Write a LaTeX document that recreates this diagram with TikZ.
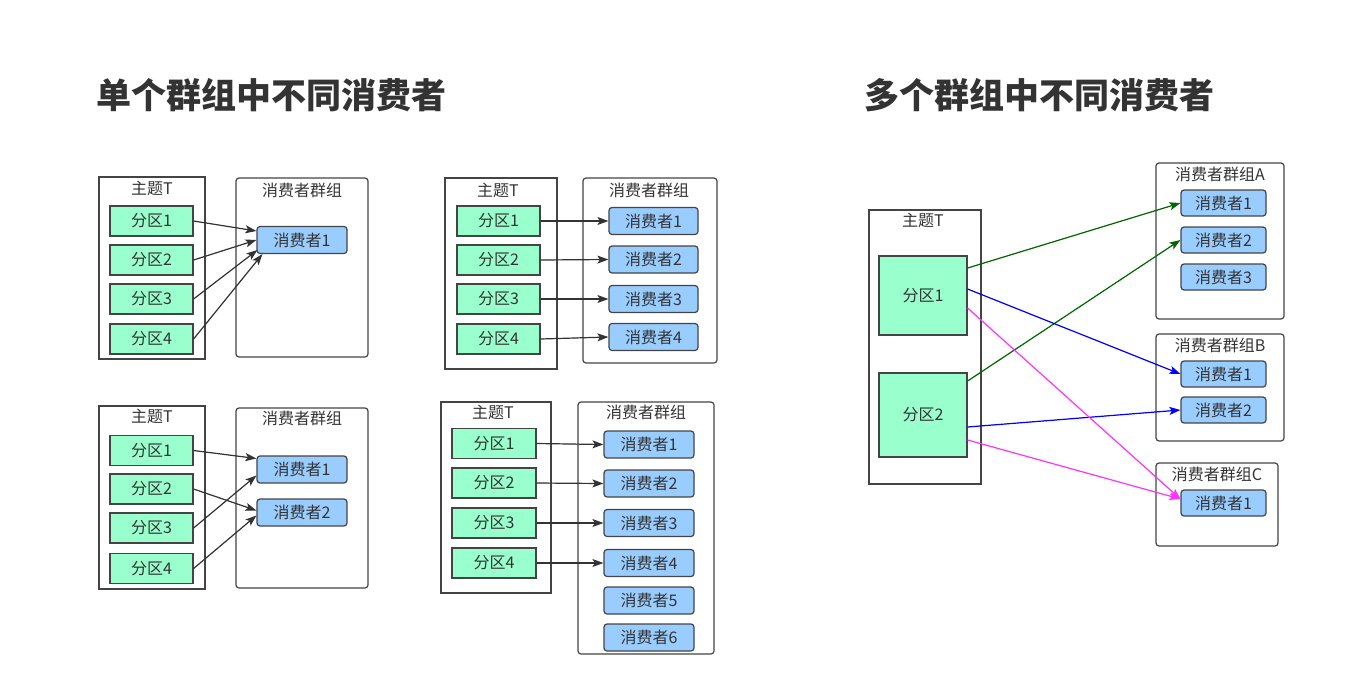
\documentclass[tikz,border=0pt]{standalone}
\usepackage{fontspec}
\setmainfont{Noto Sans CJK SC}
\usetikzlibrary{arrows.meta}
\definecolor{txt}{HTML}{333333}
\definecolor{bord}{HTML}{444444}
\definecolor{partfill}{HTML}{99FFCC}
\definecolor{consfill}{HTML}{99CCFF}
\definecolor{arrgray}{HTML}{333333}
\definecolor{agreen}{HTML}{006600}
\definecolor{ablue}{HTML}{0000FF}
\definecolor{amag}{HTML}{FF33FF}
\begin{document}
\begin{tikzpicture}[x=1pt,y=-1pt,
  every node/.style={font=\fontsize{16}{18}\selectfont, text=txt, inner sep=0pt},
  part/.style={draw=bord, fill=partfill, line width=1.2pt},
  cons/.style={draw=bord, fill=consfill, line width=1.2pt, rounded corners=3pt, minimum width=90pt, minimum height=27pt},
  topic/.style={draw=bord, line width=1.2pt},
  grp/.style={draw=bord, line width=1.2pt, rounded corners=3pt},
  ttl/.style={font=\fontsize{35}{40}\selectfont\bfseries, text=txt},
  arr/.style={-{Stealth[length=11pt,width=8pt,inset=2.5pt]}, line width=1.2pt, draw=arrgray, fill=arrgray},
]
\useasboundingbox (0,0) rectangle (1367,678);

% titles
\node[ttl] (t1) at (271,95) {单个群组中不同消费者};
\node[ttl] (t2) at (1039,95) {多个群组中不同消费者};

% ---------- Panel 1 ----------
\node[topic, minimum width=106pt, minimum height=182pt] (T1) at (152,268) {};
\node (T1l) at (152,188) {主题T};
\node[grp, minimum width=132pt, minimum height=179pt] (G1) at (302,267.5) {};
\node (G1l) at (302,190) {消费者群组};
\foreach \i/\y in {1/221,2/260,3/299,4/339}{
  \node[part, minimum width=83pt, minimum height=30pt] (a\i) at (151.5,\y) {分区\i};
}
\node[cons] (ac1) at (302,240) {消费者1};
\draw[arr] (a1.east) -- ([yshift=9pt]ac1.west);
\draw[arr] (a2.east) -- (ac1.west);
\draw[arr] (a3.east) -- ([xshift=1pt,yshift=-10pt]ac1.west);
\draw[arr] (a4.east) -- ([xshift=6pt]ac1.south west);

% ---------- Panel 2 ----------
\node[topic, minimum width=112pt, minimum height=191pt] (T2) at (501,273.5) {};
\node (T2l) at (498,190) {主题T};
\node[grp, minimum width=134pt, minimum height=185pt] (G2) at (650,270.5) {};
\node (G2l) at (649,190) {消费者群组};
\foreach \i/\y/\c in {1/221/221,2/260/259.5,3/299/299,4/339/337}{
  \node[part, minimum width=83pt, minimum height=30pt] (b\i) at (498.5,\y) {分区\i};
  \node[cons, minimum width=89pt] (bc\i) at (653.5,\c) {消费者\i};
  \draw[arr] (b\i.east) -- (bc\i.west);
}

% ---------- Panel 3 ----------
\node[topic, minimum width=106pt, minimum height=183pt] (T3) at (152,497.5) {};
\node (T3l) at (152,416) {主题T};
\node[grp, minimum width=132pt, minimum height=180pt] (G3) at (302,498) {};
\node (G3l) at (302,418) {消费者群组};
\foreach \i/\y in {1/450.5,2/489,3/528,4/568.5}{
  \node[part, minimum width=83pt, minimum height=30pt] (c\i) at (151.5,\y) {分区\i};
}
\node[cons] (cc1) at (302,469.5) {消费者1};
\node[cons] (cc2) at (302,512.5) {消费者2};
\draw[arr] (c1.east) -- ([yshift=11pt]cc1.west);
\draw[arr] (c2.east) -- ([yshift=2pt]cc2.west);
\draw[arr] (c3.east) -- ([yshift=-6pt]cc1.west);
\draw[arr] (c4.east) -- ([yshift=-3pt]cc2.west);

% ---------- Panel 4 ----------
\node[topic, minimum width=110pt, minimum height=191pt] (T4) at (496,497.5) {};
\node (T4l) at (493,412) {主题T};
\node[grp, minimum width=136pt, minimum height=252pt] (G4) at (646,528) {};
\node (G4l) at (646,412) {消费者群组};
\foreach \i/\y in {1/443.5,2/483,3/523,4/563}{
  \node[part, minimum width=84pt, minimum height=30pt] (d\i) at (494,\y) {分区\i};
}
\foreach \i/\y in {1/444.5,2/483.5,3/523,4/563,5/600.5,6/637.5}{
  \node[cons] (dc\i) at (649,\y) {消费者\i};
}
\foreach \i in {1,2,3,4}{
  \draw[arr] (d\i.east) -- (dc\i.west);
}

% ---------- Panel 5 ----------
\node[topic, minimum width=112pt, minimum height=274pt] (T5) at (925,347) {};
\node (T5l) at (923,220) {主题T};
\node[part, minimum width=88pt, minimum height=79pt] (e1) at (923,295.5) {分区1};
\node[part, minimum width=88pt, minimum height=84pt] (e2) at (923,415) {分区2};

\node[grp, minimum width=128pt, minimum height=156pt] (GA) at (1220,241) {};
\node (GAl) at (1220,174) {消费者群组A};
\node[cons, minimum width=85pt, minimum height=26pt] (A1) at (1223.5,203) {消费者1};
\node[cons, minimum width=85pt, minimum height=26pt] (A2) at (1223.5,240) {消费者2};
\node[cons, minimum width=85pt, minimum height=26pt] (A3) at (1223.5,277) {消费者3};

\node[grp, minimum width=128pt, minimum height=107pt] (GB) at (1220,387.5) {};
\node (GBl) at (1220,345) {消费者群组B};
\node[cons, minimum width=85pt, minimum height=26pt] (B1) at (1223.5,374) {消费者1};
\node[cons, minimum width=85pt, minimum height=26pt] (B2) at (1223.5,410) {消费者2};

\node[grp, minimum width=122pt, minimum height=83pt] (GC) at (1217,504.5) {};
\node (GCl) at (1217,474) {消费者群组C};
\node[cons, minimum width=85pt, minimum height=26pt] (C1) at (1223.5,503) {消费者1};

\draw[arr, draw=agreen, fill=agreen] ([yshift=27.5pt]e1.east) -- (A1.west);
\draw[arr, draw=agreen, fill=agreen] ([yshift=34pt]e2.east) -- (A2.west);
\draw[arr, draw=ablue, fill=ablue] ([yshift=6.5pt]e1.east) -- (B1.west);
\draw[arr, draw=ablue, fill=ablue] ([yshift=-12pt]e2.east) -- (B2.west);
\draw[arr, draw=amag, fill=amag] ([yshift=-12.5pt]e1.east) -- ([yshift=4pt]C1.west);
\draw[arr, draw=amag, fill=amag] ([yshift=-25pt]e2.east) -- ([yshift=4pt]C1.west);
\end{tikzpicture}
\end{document}
